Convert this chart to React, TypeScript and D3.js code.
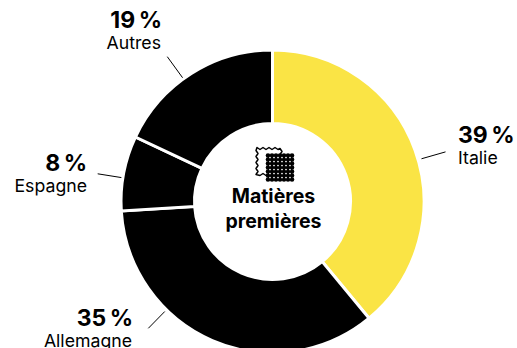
import React from "react";
import * as d3 from "d3";

const categories = ["Italie", "Allemagne", "Espagne", "Autres"];
const shares = [39, 35, 8, 19];
const percentLabels = ["39 %", "35 %", "8 %", "19 %"];
const sliceColors = ["#fae445", "#000000", "#000000", "#000000"];
const titleLines = ["Matières", "premières"];

const WIDTH = 517;
const HEIGHT = 348;
const CX = 272.5;
const CY = 201.5;
const OUTER = 151.5;
const INNER = 78;
const FONT = "Inter, 'Liberation Sans', sans-serif";

// Leader lines in polar form around the ring centre.
const leaders = [
  { angle: 74, r0: 155, r1: 180 },
  { angle: 224.4, r0: 154, r1: 177.5 },
  { angle: 279, r0: 153, r1: 177 },
  { angle: 324, r0: 153, r1: 179 },
];
const labelPlacement = [
  { x: 458, y: 143, nameX: 458, anchor: "start" },
  { x: 133, y: 325.5, nameX: 132, anchor: "end" },
  { x: 87, y: 171, nameX: 87, anchor: "end" },
  { x: 162, y: 27.5, nameX: 161, anchor: "end" },
];

// Shares are rounded percentages, so they sit on a fixed 0-100 angular scale;
// the clamp closes the ring when the rounded figures overshoot 100.
const angle = d3.scaleLinear().domain([0, 100]).range([0, 2 * Math.PI]).clamp(true);
const cumulative = Array.from(d3.cumsum(shares));
const arc = d3.arc().innerRadius(INNER).outerRadius(OUTER);

const polar = (deg: number, r: number): [number, number] => {
  const a = (deg * Math.PI) / 180;
  return [CX + r * Math.sin(a), CY - r * Math.cos(a)];
};

// Scalloped outline of a rectangle, used for the fabric swatch glyph.
function scallopPath(x: number, y: number, w: number, h: number, step: number) {
  const pts: [number, number][] = [];
  const nx = Math.round(w / step);
  const ny = Math.round(h / step);
  for (let i = 0; i < nx; i++) pts.push([x + i * step, y + (i % 2 ? 1 : -1)]);
  for (let i = 0; i < ny; i++) pts.push([x + w + (i % 2 ? 1 : -1), y + i * step]);
  for (let i = 0; i < nx; i++) pts.push([x + w - i * step, y + h + (i % 2 ? 1 : -1)]);
  for (let i = 0; i < ny; i++) pts.push([x + (i % 2 ? 1 : -1), y + h - i * step]);
  return d3.line().curve(d3.curveLinearClosed)(pts) as string;
}

function FabricIcon() {
  const n = 7;
  const size = 4;
  const ox = 268;
  const oy = 155.5;
  return (
    <g>
      <path
        d={scallopPath(257, 148.5, 24, 26, 3)}
        fill="#fff"
        stroke="#000"
        strokeWidth={1.5}
        strokeLinejoin="round"
      />
      <rect x={ox} y={oy} width={size * (n - 1)} height={size * (n - 1)} fill="#000" />
      {d3.range(n).map((r) =>
        d3.range(n).map((c) => (
          <circle key={`${r}-${c}`} cx={ox + c * size} cy={oy + r * size} r={2.3} fill="#000" />
        )),
      )}
      {d3.range(n - 1).map((r) =>
        d3.range(n - 1).map((c) => (
          <circle
            key={`h-${r}-${c}`}
            cx={ox + (c + 0.5) * size}
            cy={oy + (r + 0.5) * size}
            r={0.85}
            fill="#fff"
          />
        )),
      )}
    </g>
  );
}

export default function App() {
  return (
    <svg
      width={WIDTH}
      height={HEIGHT}
      viewBox={`0 0 ${WIDTH} ${HEIGHT}`}
      style={{ position: "absolute", left: 0, top: 0, background: "#fff" }}
      fontFamily={FONT}
    >
      <g transform={`translate(${CX},${CY})`}>
        {shares.map((v, i) => (
          <path
            key={categories[i]}
            d={
              arc({
                innerRadius: INNER,
                outerRadius: OUTER,
                startAngle: angle(cumulative[i] - v),
                endAngle: angle(cumulative[i]),
              }) as string
            }
            fill={sliceColors[i]}
            stroke="#fff"
            strokeWidth={3}
          />
        ))}
      </g>
      {leaders.map((l, i) => {
        const [x1, y1] = polar(l.angle, l.r0);
        const [x2, y2] = polar(l.angle, l.r1);
        return <line key={i} x1={x1} y1={y1} x2={x2} y2={y2} stroke="#000" strokeWidth={1} />;
      })}
      {categories.map((name, i) => {
        const p = labelPlacement[i];
        return (
          <g key={name} fill="#000" textAnchor={p.anchor as "start" | "end"}>
            <text x={p.x} y={p.y} fontSize={23} fontWeight={700} wordSpacing={-2}>
              {percentLabels[i]}
            </text>
            <text x={p.nameX} y={p.y + 21} fontSize={17.7}>
              {name}
            </text>
          </g>
        );
      })}
      <FabricIcon />
      <g fill="#000" textAnchor="middle" fontSize={19.5} fontWeight={700}>
        {titleLines.map((line, i) => (
          <text key={line} x={CX + 1} y={203 + i * 24.5}>
            {line}
          </text>
        ))}
      </g>
    </svg>
  );
}
